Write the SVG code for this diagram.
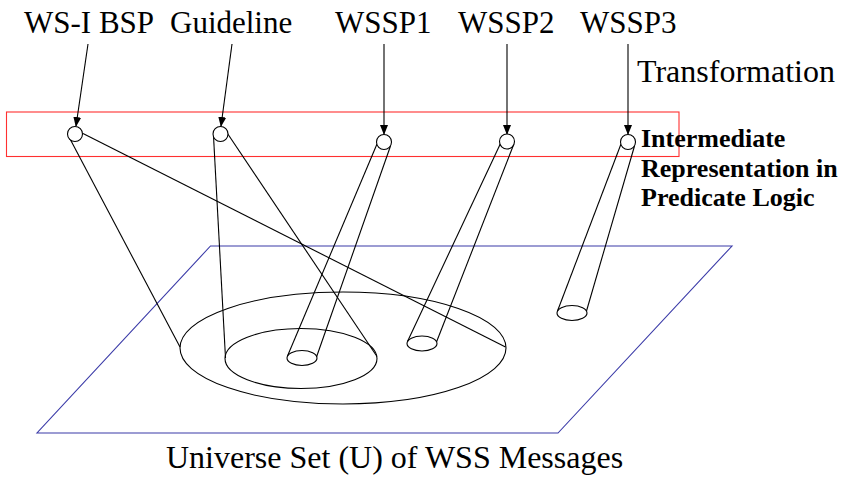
<svg xmlns="http://www.w3.org/2000/svg" width="848" height="483" viewBox="0 0 848 483">
<style>
  .ln{fill:none;stroke:#000;stroke-width:1.1}
  .lbl{font-family:"Liberation Serif","Times New Roman",serif;font-size:31px;fill:#000}
  .big{font-size:32px}
  .bold{font-family:"Liberation Serif","Times New Roman",serif;font-size:26px;font-weight:bold;fill:#000}
  .circ{fill:#fff;stroke:#000;stroke-width:1.1}
</style>
<defs>
  <marker id="ah" markerWidth="10" markerHeight="8" refX="9" refY="4" orient="auto" markerUnits="userSpaceOnUse">
    <path d="M0,0 L10,4 L0,8 Z" fill="#000"/>
  </marker>
</defs>
<rect width="848" height="483" fill="#fff"/>

<g id="universe">
  <polygon points="210.5,246 732,246 558,433 37,433" fill="none" stroke="#3b3ba8" stroke-width="1.1"/>
  <text class="lbl big" x="166" y="468">Universe Set (U) of WSS Messages</text>
</g>

<g id="sets">
  <ellipse class="ln" cx="343" cy="348" rx="163" ry="56"/>
  <ellipse class="ln" cx="301" cy="358.5" rx="76" ry="30"/>
  <ellipse class="ln" cx="302" cy="358" rx="15" ry="7.5"/>
  <ellipse class="ln" cx="422" cy="343.5" rx="15" ry="7.5"/>
  <ellipse class="ln" cx="572" cy="313" rx="15" ry="7.5"/>
</g>

<g id="intermediate">
  <rect x="6.5" y="112" width="672.5" height="44.5" fill="none" stroke="#ff3030" stroke-width="1.1"/>
  <text class="bold" x="641" y="147">Intermediate</text>
  <text class="bold" x="641" y="177">Representation in</text>
  <text class="bold" x="641" y="206">Predicate Logic</text>
</g>

<g id="connectors">
  <line class="ln" x1="88" y1="44" x2="76" y2="126" marker-end="url(#ah)"/>
  <line class="ln" x1="232" y1="44" x2="221" y2="126" marker-end="url(#ah)"/>
  <line class="ln" x1="384" y1="44" x2="384" y2="134" marker-end="url(#ah)"/>
  <line class="ln" x1="507" y1="44" x2="507" y2="134" marker-end="url(#ah)"/>
  <line class="ln" x1="628" y1="44" x2="628" y2="134" marker-end="url(#ah)"/>
  <line class="ln" x1="69" y1="137" x2="180" y2="347"/>
  <line class="ln" x1="83" y1="133.5" x2="505.5" y2="347"/>
  <line class="ln" x1="213.5" y1="136" x2="225.5" y2="358"/>
  <line class="ln" x1="227.5" y1="133.5" x2="377" y2="356.5"/>
  <line class="ln" x1="377" y1="144" x2="287.5" y2="356"/>
  <line class="ln" x1="390.5" y1="146" x2="316.5" y2="357"/>
  <line class="ln" x1="500.5" y1="143.5" x2="407.5" y2="341.5"/>
  <line class="ln" x1="513.5" y1="145" x2="436.5" y2="342"/>
  <line class="ln" x1="621" y1="144" x2="557.5" y2="311"/>
  <line class="ln" x1="634.5" y1="146" x2="586.5" y2="311"/>
</g>

<g id="wsi">
  <circle class="circ" cx="75" cy="134" r="7.5"/>
  <text class="lbl" x="24" y="33">WS-I BSP</text>
</g>
<g id="guideline">
  <circle class="circ" cx="220.5" cy="134" r="7.5"/>
  <text class="lbl" x="170" y="33">Guideline</text>
</g>
<g id="wssp1">
  <circle class="circ" cx="384" cy="142" r="7.5"/>
  <text class="lbl" x="335" y="33">WSSP1</text>
</g>
<g id="wssp2">
  <circle class="circ" cx="507" cy="141.5" r="7.5"/>
  <text class="lbl" x="458" y="33">WSSP2</text>
</g>
<g id="wssp3">
  <circle class="circ" cx="628" cy="142" r="7.5"/>
  <text class="lbl" x="580" y="33">WSSP3</text>
</g>
<g id="transformation">
  <text class="lbl big" x="637" y="82">Transformation</text>
</g>
</svg>
